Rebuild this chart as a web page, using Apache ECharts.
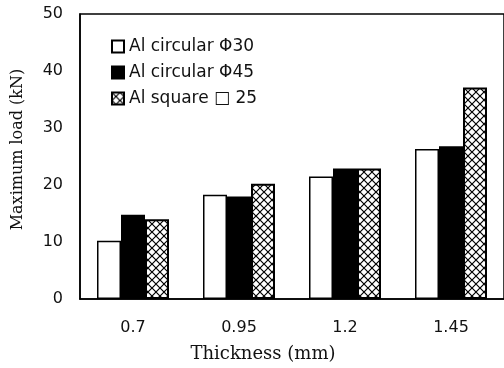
<!DOCTYPE html>
<html>
<head>
<meta charset="utf-8">
<script src="https://cdn.jsdelivr.net/npm/echarts@6/dist/echarts.min.js"></script>
<style>html,body{margin:0;padding:0;background:#fff}#c{width:504px;height:368px}</style>
</head>
<body>
<div id="c"></div>
<script>
var categories = ['0.7', '0.95', '1.2', '1.45'];
var seriesNames = ['Al circular \u03A630', 'Al circular \u03A645', 'Al square \u25A1 25'];
var circular30 = [10.2, 18.3, 21.5, 26.3];
var circular45 = [14.8, 18.0, 22.9, 26.8];
var square25 = [14.0, 20.2, 22.9, 37.1];
var yTicks = [0, 10, 20, 30, 40, 50];

// cross-hatch pattern
var pc = document.createElement('canvas');
pc.width = 8; pc.height = 8;
var g = pc.getContext('2d');
g.fillStyle = '#fff'; g.fillRect(0, 0, 8, 8);
g.strokeStyle = '#000'; g.lineWidth = 1.2;
g.beginPath();
g.moveTo(0, 0); g.lineTo(8, 8);
g.moveTo(8, 0); g.lineTo(0, 8);
g.stroke();

var chart = echarts.init(document.getElementById('c'));
var sans = 'DejaVu Sans';
var serif = 'DejaVu Serif';
chart.setOption({
  animation: false,
  backgroundColor: '#fff',
  grid: { left: 80, top: 14, right: -3, bottom: 66, show: true, borderColor: '#000', borderWidth: 1.5, backgroundColor: 'transparent' },
  legend: {
    orient: 'vertical', left: 106, top: 33,
    icon: 'rect', itemWidth: 12, itemHeight: 12, itemGap: 9,
    textStyle: { fontFamily: sans, fontSize: 17, color: '#111' },
    data: seriesNames
  },
  xAxis: {
    type: 'category', data: categories,
    axisLine: { lineStyle: { color: '#000', width: 1.5 } },
    axisTick: { show: false },
    axisLabel: { fontFamily: sans, fontSize: 16, color: '#111', margin: 21 },
    name: 'Thickness (mm)', nameLocation: 'middle', nameGap: 46,
    nameTextStyle: { fontFamily: serif, fontSize: 18, color: '#111', padding: [0, 58, 0, 0] }
  },
  yAxis: {
    type: 'value', min: yTicks[0], max: yTicks[yTicks.length - 1], interval: 10,
    splitLine: { show: false },
    axisLine: { show: true, lineStyle: { color: '#000', width: 1.5 } },
    axisTick: { show: false },
    axisLabel: { fontFamily: sans, fontSize: 16, color: '#111', margin: 17 },
    name: 'Maximum load (kN)', nameLocation: 'middle', nameGap: 54,
    nameTextStyle: { fontFamily: serif, fontSize: 16, color: '#111', padding: [0, 0, 0, 14] }
  },
  series: [
    { name: seriesNames[0], type: 'bar', data: circular30, barWidth: 24, barGap: '0%',
      itemStyle: { color: '#fff', borderColor: '#000', borderWidth: 1.5 } },
    { name: seriesNames[1], type: 'bar', data: circular45, barWidth: 24, barGap: '0%',
      itemStyle: { color: '#000', borderColor: '#000', borderWidth: 1.5 } },
    { name: seriesNames[2], type: 'bar', data: square25, barWidth: 24, barGap: '0%',
      itemStyle: { color: { image: pc, repeat: 'repeat' }, borderColor: '#000', borderWidth: 2 } }
  ]
});
</script>
</body>
</html>
